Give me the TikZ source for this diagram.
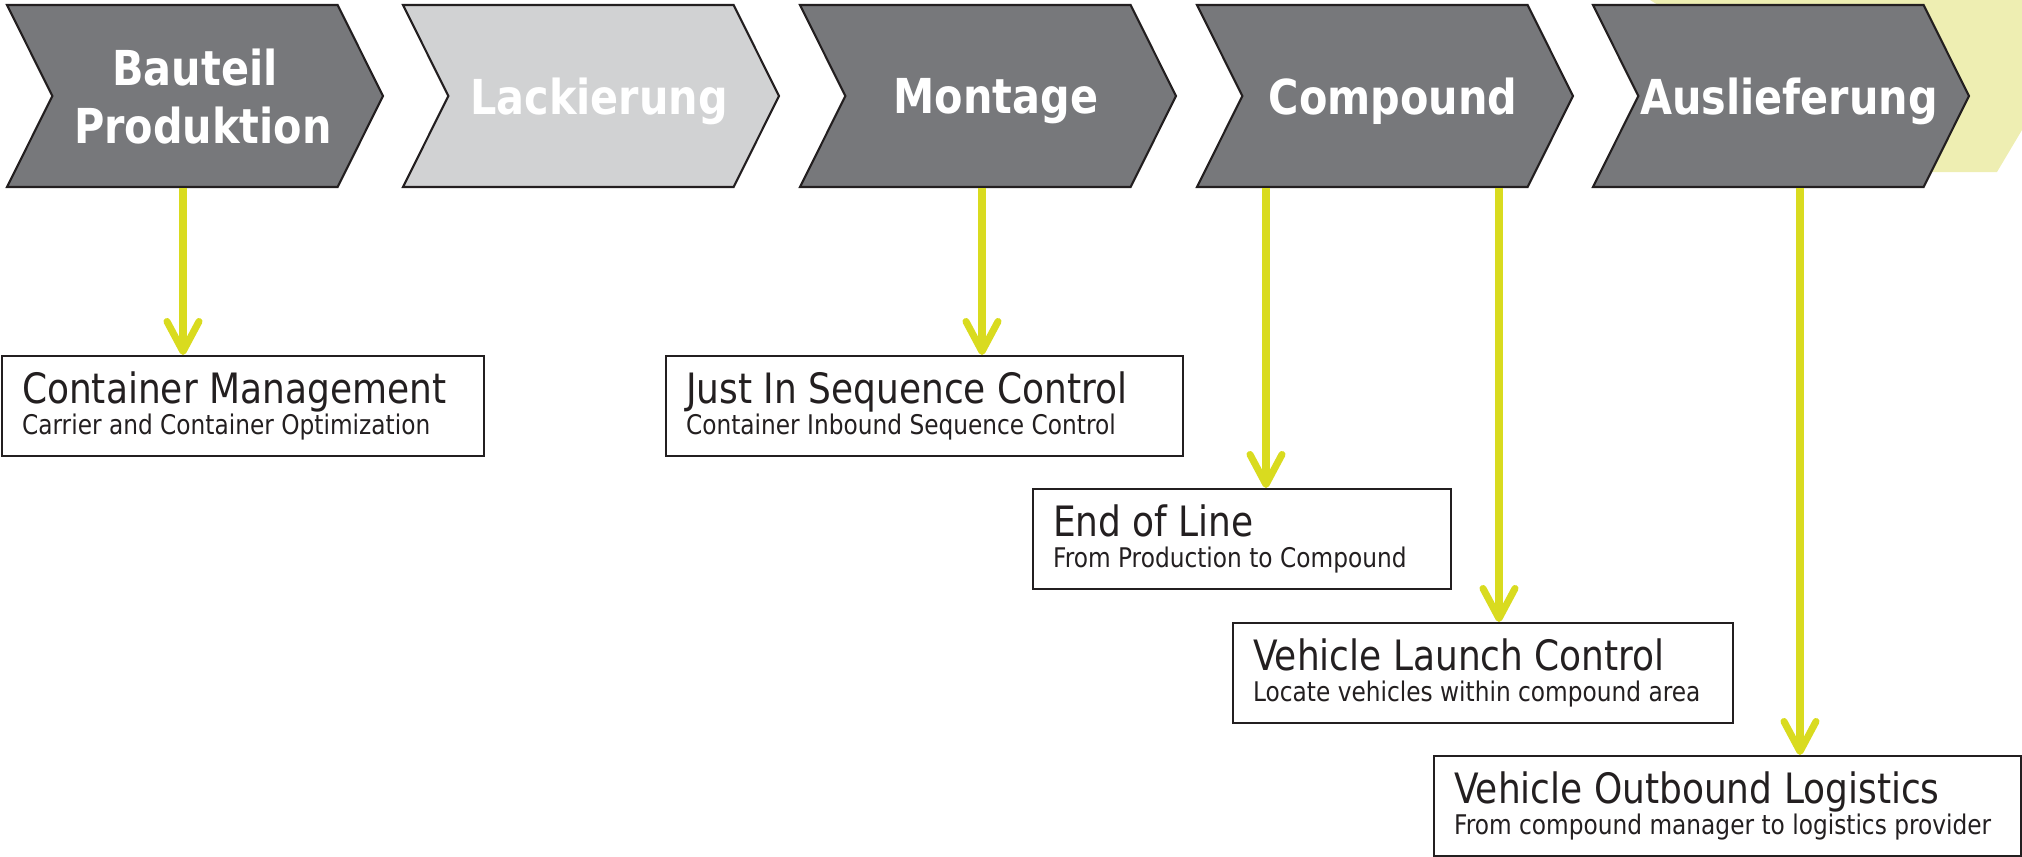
\documentclass[tikz,border=0pt]{standalone}
\usepackage{fontspec}
\setmainfont[FakeStretch=0.86]{DejaVu Sans}
\usetikzlibrary{arrows.meta,shapes.symbols}
\definecolor{chevgray}{HTML}{77787B}
\definecolor{chevlight}{HTML}{D1D2D3}
\definecolor{arrowyellow}{HTML}{D9DB1F}
\definecolor{blobyellow}{HTML}{EEEEB2}
\definecolor{boxline}{HTML}{231F20}
\newcommand{\subtxt}{\fontsize{7.7}{8.8}\selectfont}

\begin{document}
\begin{tikzpicture}
        [
        chev/.style={signal,signal from=west,signal to=east,signal pointer angle=127,
          draw=boxline,line width=0.6pt,fill=chevgray,minimum width=3.76cm,minimum height=1.82cm,
          inner sep=0pt},
        steptext/.style={xshift=0.08cm,inner sep=0pt,text=white,align=center,text depth=0pt,
          font=\bfseries\fontsize{13.7}{16.5}\selectfont},
        box/.style={draw=boxline,line width=0.6pt,fill=white,anchor=north west,minimum height=1cm,
          inner xsep=0.2cm,inner ysep=0pt,align=flush left,text width=#1,text=boxline,
          font=\fontsize{11.9}{8.8}\selectfont},
        edge/.style={draw=arrowyellow,line width=2pt,-{Straight Barb[length=0.3cm,width=0.32cm,round]}}
        ]
    \useasboundingbox (0,0) rectangle (20.22,-8.57);
    % yellow patch behind the last step
    \fill[blobyellow] (16.50,0) -- (20.22,0) -- (20.22,-1.30) -- (19.97,-1.72) -- (19.30,-1.72) -- cycle;

    % process steps
    \node[chev] (bp) at (1.95,-0.96) {};
    \node[chev,fill=chevlight] (lk) at (5.91,-0.96) {};
    \node[chev] (mo) at (9.88,-0.96) {};
    \node[chev] (co) at (13.85,-0.96) {};
    \node[chev] (al) at (17.81,-0.96) {};
    \node[steptext] (bpt) at (bp.center) {Bauteil\hspace*{0.16cm}\\Produktion};
    \node[steptext] (lkt) at (lk.center) {Lackierung};
    \node[steptext] (mot) at (mo.center) {Montage};
    \node[steptext] (cot) at (co.center) {Compound};
    \node[steptext] (alt) at (al.center) {Auslieferung};

    % services
    \node[box=4.42cm] (cm) at (0.01,-3.55) {Container Management\\{\subtxt Carrier and Container Optimization}};
    \node[box=4.77cm] (jis) at (6.65,-3.55) {Just In Sequence Control\\{\subtxt Container Inbound Sequence Control}};
    \node[box=3.78cm] (eol) at (10.32,-4.88) {End of Line\\{\subtxt From Production to Compound}};
    \node[box=4.60cm] (vlc) at (12.32,-6.22) {Vehicle Launch Control\\{\subtxt Locate vehicles within compound area}};
    \node[box=5.47cm] (vol) at (14.33,-7.55) {Vehicle Outbound Logistics\\{\subtxt From compound manager to logistics provider}};

    \draw[edge] (bp.south -| 1.83,0) -- (cm.north -| 1.83,0);
    \draw[edge] (mo.south -| 9.82,0) -- (jis.north -| 9.82,0);
    \draw[edge] (co.south -| 12.66,0) -- (eol.north -| 12.66,0);
    \draw[edge] (co.south -| 14.99,0) -- (vlc.north -| 14.99,0);
    \draw[edge] (al.south -| 18.00,0) -- (vol.north -| 18.00,0);
    \end{tikzpicture}
\end{document}
